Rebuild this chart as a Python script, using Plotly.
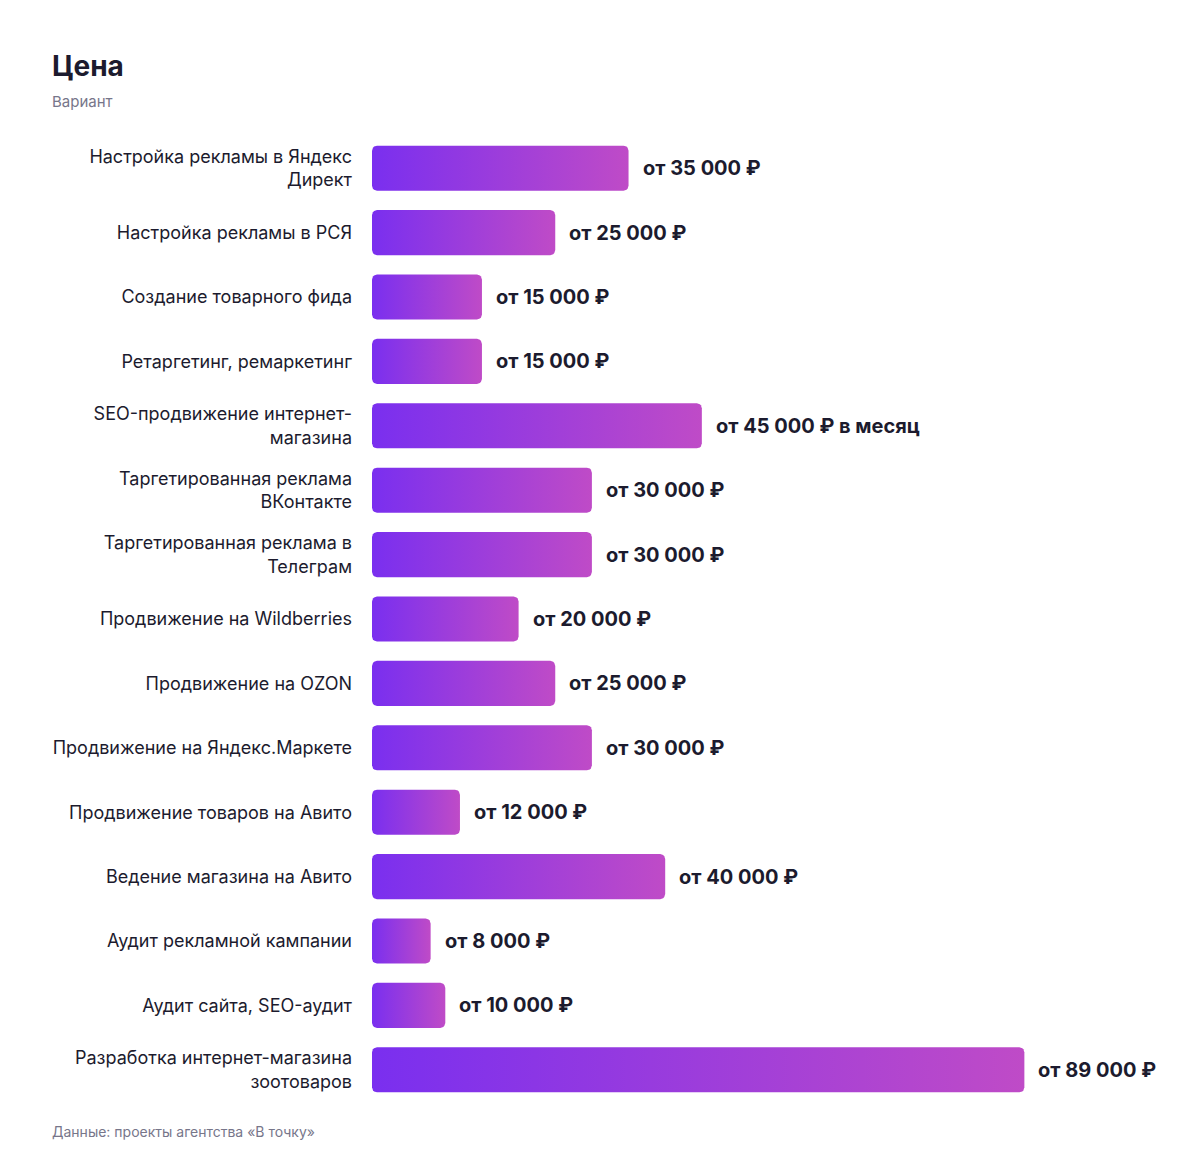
import numpy as np
import plotly.graph_objects as go

# data
services = [
    "Настройка рекламы в Яндекс<br>Директ",
    "Настройка рекламы в РСЯ",
    "Создание товарного фида",
    "Ретаргетинг, ремаркетинг",
    "SEO-продвижение интернет-<br>магазина",
    "Таргетированная реклама<br>ВКонтакте",
    "Таргетированная реклама в<br>Телеграм",
    "Продвижение на Wildberries",
    "Продвижение на OZON",
    "Продвижение на Яндекс.Маркете",
    "Продвижение товаров на Авито",
    "Ведение магазина на Авито",
    "Аудит рекламной кампании",
    "Аудит сайта, SEO-аудит",
    "Разработка интернет-магазина<br>зоотоваров",
]
prices = [35000, 25000, 15000, 15000, 45000, 30000, 30000, 20000, 25000,
          30000, 12000, 40000, 8000, 10000, 89000]
price_labels = [
    "от 35 000 ₽", "от 25 000 ₽", "от 15 000 ₽", "от 15 000 ₽",
    "от 45 000 ₽ в месяц", "от 30 000 ₽", "от 30 000 ₽", "от 20 000 ₽",
    "от 25 000 ₽", "от 30 000 ₽", "от 12 000 ₽", "от 40 000 ₽",
    "от 8 000 ₽", "от 10 000 ₽", "от 89 000 ₽",
]

X_MAX = 100000
HALF = 0.35
RX = 680      # corner radius in x units (~5px)
RY = 0.078    # corner radius in y units (~5px)
TEXT = "#1c1b2e"
GREY = "#77768a"
GRAD = [[0, "#7A2FEF"], [1, "#BF4BC7"]]

# plot box in pixels (page body adds 8px offset)
M_L, M_R, M_T, M_B = 364, 103, 128, 66
PW = 1200 - M_L - M_R
PH = 1160 - M_T - M_B


def rounded_bar(value, row):
    """Outline of a rounded horizontal bar from 0 to value at row."""
    t = np.linspace(0, np.pi / 2, 6)
    y0, y1 = row - HALF, row + HALF
    xs, ys = [], []
    for cx, cy, a0 in [(RX, y0 + RY, np.pi), (value - RX, y0 + RY, 1.5 * np.pi),
                       (value - RX, y1 - RY, 0), (RX, y1 - RY, 0.5 * np.pi)]:
        xs += list(cx + RX * np.cos(a0 + t))
        ys += list(cy + RY * np.sin(a0 + t))
    xs.append(xs[0])
    ys.append(ys[0])
    return xs, ys


fig = go.Figure()
for i, (name, val) in enumerate(zip(services, prices)):
    xs, ys = rounded_bar(val, i)
    fig.add_trace(go.Scatter(
        x=xs, y=ys, mode="lines", fill="toself",
        line={"width": 0},
        fillgradient={"type": "horizontal", "colorscale": GRAD},
        hoverinfo="skip", showlegend=False,
    ))
    fig.add_annotation(
        x=val, y=i, text=f"<b>{price_labels[i]}</b>", showarrow=False,
        xanchor="left", yanchor="middle", xshift=12,
        font={"size": 20, "color": TEXT},
    )

left = -(M_L - 42) / PW
fig.add_annotation(x=left, y=1 + 70 / PH, xref="paper", yref="paper",
                   xanchor="left", yanchor="middle", text="<b>Цена</b>",
                   showarrow=False, font={"size": 28, "color": TEXT})
fig.add_annotation(x=left, y=1 + 34 / PH, xref="paper", yref="paper",
                   xanchor="left", yanchor="middle", text="Вариант",
                   showarrow=False, font={"size": 15, "color": GREY})
fig.add_annotation(x=left, y=-29 / PH, xref="paper", yref="paper",
                   xanchor="left", yanchor="middle",
                   text="Данные: проекты агентства «В точку»",
                   showarrow=False, font={"size": 14, "color": GREY})

fig.update_layout(
    width=1200,
    height=1160,
    paper_bgcolor="white",
    plot_bgcolor="white",
    font={"family": "Inter, Roboto, sans-serif", "color": TEXT},
    margin={"l": M_L, "r": M_R, "t": M_T, "b": M_B},
    xaxis={"range": [0, X_MAX], "visible": False, "fixedrange": True},
    yaxis={
        "range": [14.5, -0.5],
        "tickvals": list(range(len(services))),
        "ticktext": services,
        "tickfont": {"size": 18, "color": TEXT},
        "ticklabelstandoff": 19,
        "showgrid": False,
        "zeroline": False,
        "showline": False,
        "ticks": "",
        "fixedrange": True,
    },
)

fig.write_html("out.html")
